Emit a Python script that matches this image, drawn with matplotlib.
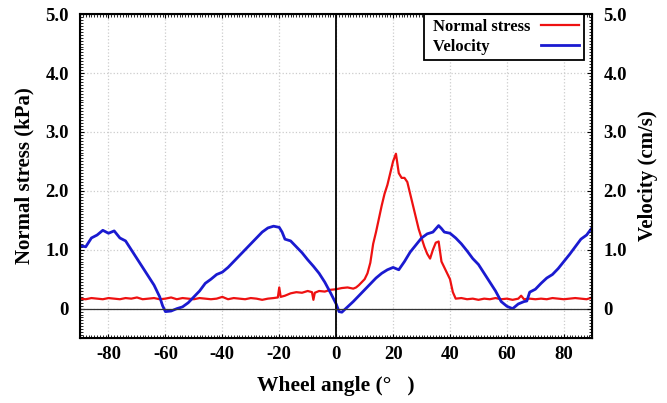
import numpy as np
import matplotlib
matplotlib.use("Agg")
import matplotlib.pyplot as plt
from matplotlib.ticker import MultipleLocator

plt.rcParams['font.family'] = ['Liberation Serif', 'DejaVu Serif']
plt.rcParams['font.weight'] = 'bold'
plt.rcParams['axes.unicode_minus'] = False

# velocity (cm/s) vs wheel angle
vel_x = [-90, -88, -86, -84, -82, -80, -78, -76, -74, -72, -70, -68, -66, -64, -62,
         -61, -60, -58, -56, -54, -52, -50, -48, -46, -44, -42, -40, -38, -36, -34,
         -32, -30, -28, -26, -24, -22, -20, -19, -18, -16, -14, -12, -10, -8, -6,
         -4, -2, 0, 1, 2, 4, 6, 8, 10, 12, 14, 16, 18, 20, 22, 24, 26, 28, 30, 32,
         34, 36, 37, 38, 40, 42, 44, 46, 48, 50, 52, 54, 56, 58, 60, 62, 64, 66, 67,
         68, 70, 72, 74, 76, 78, 80, 82, 84, 86, 88, 90]
vel_y = [1.07, 1.05, 1.2, 1.25, 1.33, 1.28, 1.32, 1.2, 1.15, 1.0, 0.85, 0.7, 0.55, 0.4, 0.2,
         0.05, -0.05, -0.04, 0.0, 0.03, 0.1, 0.2, 0.3, 0.43, 0.5, 0.58, 0.62, 0.7, 0.8, 0.9,
         1.0, 1.1, 1.2, 1.3, 1.37, 1.4, 1.38, 1.3, 1.18, 1.15, 1.05, 0.95, 0.83, 0.72, 0.6,
         0.45, 0.27, 0.08, -0.05, -0.06, 0.03, 0.12, 0.22, 0.32, 0.42, 0.52, 0.6, 0.66, 0.7, 0.66, 0.8, 0.96, 1.08, 1.2, 1.27,
         1.3, 1.41, 1.36, 1.3, 1.28, 1.2, 1.1, 0.98, 0.85, 0.75, 0.6, 0.45, 0.3, 0.12, 0.04, 0.0, 0.08, 0.12, 0.13,
         0.28, 0.33, 0.43, 0.52, 0.58, 0.68, 0.8, 0.92, 1.05, 1.18, 1.25, 1.38]

# normal stress (kPa) vs wheel angle
ns_x = [-90, -88, -86, -84, -82, -80, -78, -76, -74, -72, -70, -68, -66, -64, -62,
        -60, -58, -56, -54, -52, -50, -48, -46, -44, -42, -40, -38, -36, -34, -32,
        -30, -28, -26, -24, -22, -20.5, -20, -19.5, -18, -16, -14, -12, -10, -8.5, -8, -7.5,
        -6, -4, -2, 0, 2, 4, 6, 7, 8, 10, 11, 12, 13, 14, 16, 17, 18, 19, 20, 21, 22, 23, 24,
        25, 26, 27, 28, 29, 30, 31, 32, 33, 34, 35, 36, 37, 38, 39, 40, 41, 42, 44, 46,
        48, 50, 52, 54, 56, 58, 60, 62, 64, 65, 66, 68, 70, 72, 74, 76, 78, 80, 82, 84, 86, 88, 90]
ns_y = [0.17, 0.16, 0.18, 0.17, 0.16, 0.18, 0.17, 0.16, 0.18, 0.17, 0.19, 0.16, 0.17, 0.18, 0.16,
        0.17, 0.19, 0.16, 0.18, 0.17, 0.16, 0.18, 0.17, 0.16, 0.17, 0.2, 0.16, 0.18, 0.17, 0.16,
        0.18, 0.17, 0.15, 0.17, 0.18, 0.19, 0.36, 0.2, 0.22, 0.26, 0.28, 0.27, 0.3, 0.28, 0.15, 0.27,
        0.3, 0.29, 0.32, 0.33, 0.35, 0.36, 0.34, 0.36, 0.4, 0.5, 0.6, 0.78, 1.1, 1.3, 1.75, 1.95, 2.1, 2.3, 2.5, 2.63, 2.3, 2.22, 2.22,
        2.15, 1.95, 1.75, 1.55, 1.35, 1.2, 1.05, 0.93, 0.85, 1.0, 1.12, 1.14, 0.8, 0.7, 0.6, 0.5, 0.28, 0.17, 0.18, 0.16,
        0.17, 0.15, 0.17, 0.16, 0.18, 0.16, 0.17, 0.15, 0.17, 0.22, 0.16, 0.17, 0.16, 0.17, 0.16, 0.18, 0.17, 0.16, 0.17, 0.18, 0.17, 0.16, 0.19]

fig = plt.figure(figsize=(6.67, 4.03), dpi=100)
ax = fig.add_axes([0.12, 0.161, 0.768, 0.804])

ax.plot(ns_x, ns_y, color='#ee1111', lw=1.6, label='Normal stress')
# trailing spaces keep the legend text left-aligned
ax.plot(vel_x, vel_y, color='#1a1ad0', lw=2.0, label=' Velocity          ')
ax.axvline(0, color='black', lw=1.3)
ax.axhline(0, color='#333333', lw=0.9)

ax.set_xlim(-90, 90)
ax.set_ylim(-0.5, 5.0)
ax.xaxis.set_major_locator(MultipleLocator(20))
ax.xaxis.set_minor_locator(MultipleLocator(1))
ax.yaxis.set_minor_locator(MultipleLocator(0.05))
yt = [0, 1, 2, 3, 4, 5]
ylabels = ['0', '1.0', '2.0', '3.0', '4.0', '5.0']
ax.set_yticks(yt)
ax.set_yticklabels(ylabels)
ax.grid(True, which='major', color='#cccccc', ls=':', lw=0.9)
ax.tick_params(which='both', direction='in', top=True, right=True, labelsize=13.5)
ax.tick_params(axis='y', pad=8)
ax.tick_params(axis='x', pad=6)
ax.tick_params(which='major', length=3)
ax.tick_params(which='minor', length=2)
for s in ax.spines.values():
    s.set_linewidth(1.5)

ax.set_xlabel('Wheel angle (°   )', fontsize=15.5, fontweight='bold', labelpad=9)
ax.set_ylabel('Normal stress (kPa)', fontsize=15, fontweight='bold', labelpad=8)

ax2 = ax.twinx()
ax2.set_ylim(-0.5, 5.0)
ax2.set_yticks(yt)
ax2.set_yticklabels(ylabels)
ax2.yaxis.set_minor_locator(MultipleLocator(0.05))
ax2.tick_params(which='both', direction='in', labelsize=13.5, pad=8)
ax2.tick_params(which='minor', length=2)
ax2.set_ylabel('Velocity (cm/s)', fontsize=15, fontweight='bold', labelpad=8)

leg = ax.legend(loc='upper right', bbox_to_anchor=(0.984, 1.0), markerfirst=False,
                fancybox=False, framealpha=1, edgecolor='black', fontsize=12,
                handlelength=2.3, handletextpad=0.6, borderaxespad=0.0,
                labelspacing=0.25, borderpad=0.3)
leg.get_frame().set_linewidth(1.3)

fig.savefig('out.png', dpi=100)
